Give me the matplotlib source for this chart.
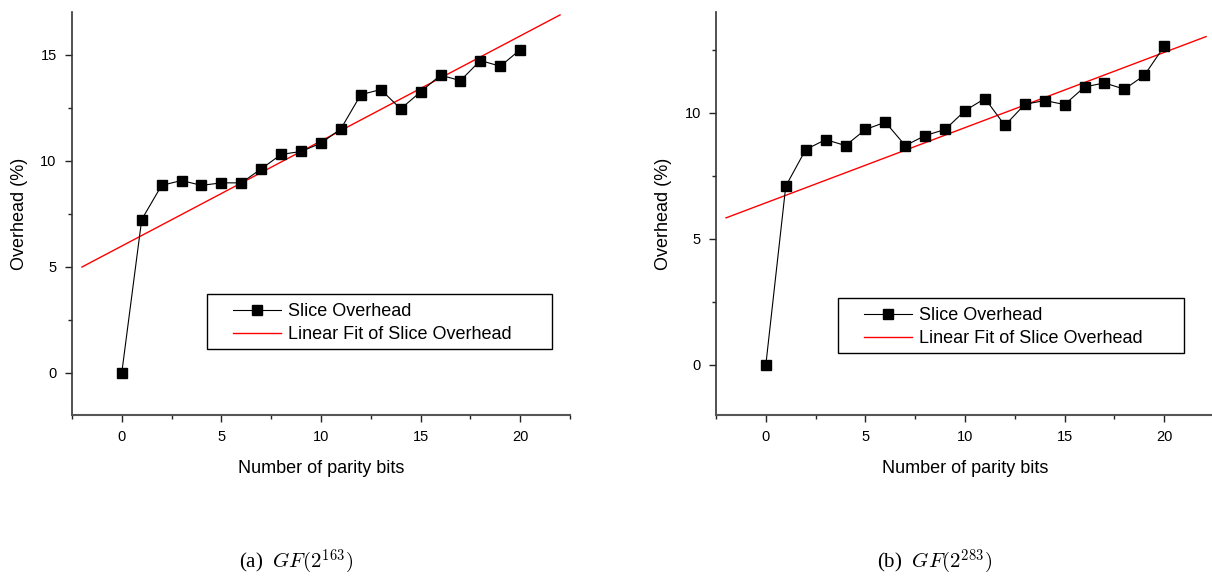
import numpy as np
import matplotlib
matplotlib.use("Agg")
import matplotlib.pyplot as plt
from matplotlib.ticker import MultipleLocator
from matplotlib.patches import Rectangle

plt.rcParams['font.family'] = ['Liberation Sans', 'DejaVu Sans']
plt.rcParams['mathtext.fontset'] = 'cm'

# Parity bits on x axis
bits = list(range(21))

# (a) GF(2^163) slice overhead (%)
overhead_163 = [0.0, 7.22, 8.83, 9.06, 8.83, 8.95, 8.95, 9.61, 10.29, 10.43, 10.82,
                11.50, 13.11, 13.35, 12.44, 13.24, 14.03, 13.77, 14.72, 14.45, 15.23]
fit_x_163 = [-2.0, 22.0]
fit_y_163 = [4.98, 16.87]

# (b) GF(2^283) slice overhead (%)
overhead_283 = [0.0, 7.09, 8.54, 8.94, 8.70, 9.34, 9.63, 8.70, 9.10, 9.34, 10.09,
                10.57, 9.50, 10.34, 10.49, 10.33, 11.03, 11.19, 10.94, 11.49, 12.65]
fit_x_283 = [-2.0, 22.1]
fit_y_283 = [5.83, 13.03]

captions = [r"(a)  $GF(2^{163})$", r"(b)  $GF(2^{283})$"]

fig = plt.figure(figsize=(12.12, 5.79), dpi=100)
ax1 = fig.add_axes([0.0594, 0.2832, 0.4109, 0.6958])
ax2 = fig.add_axes([0.5908, 0.2832, 0.4109, 0.6958])


def draw_panel(ax, y, fx, fy, ylim, box, leg_anchor):
    ax.plot(bits, y, color='black', lw=0.8, marker='s', markersize=7,
            label='Slice Overhead', zorder=3)
    ax.plot(fx, fy, color='red', lw=1.0, label='Linear Fit of Slice Overhead', zorder=2)
    ax.set_xlim(-2.5, 22.5)
    ax.set_ylim(*ylim)
    ax.xaxis.set_major_locator(MultipleLocator(5))
    ax.xaxis.set_minor_locator(MultipleLocator(2.5))
    ax.yaxis.set_major_locator(MultipleLocator(5))
    ax.yaxis.set_minor_locator(MultipleLocator(2.5))
    for s in ['top', 'right']:
        ax.spines[s].set_visible(False)
    ax.spines['left'].set_color('#333333')
    ax.spines['left'].set_linewidth(1.2)
    ax.spines['bottom'].set_color('#555555')
    ax.spines['bottom'].set_linewidth(1.5)
    ax.tick_params(which='major', direction='out', length=5, width=1, color='#222222',
                   labelsize=10.5, pad=6)
    ax.tick_params(which='minor', direction='out', length=3, width=1, color='#222222')
    ax.set_xlabel('Number of parity bits', fontsize=13, labelpad=11)
    ax.set_ylabel('Overhead (%)', fontsize=13, labelpad=9)
    # legend frame drawn separately so the box can be wider than its contents
    ax.add_patch(Rectangle((box[0], box[1]), box[2], box[3], transform=ax.transAxes,
                           facecolor='white', edgecolor='black', lw=1.0, zorder=4))
    leg = ax.legend(loc='upper left', bbox_to_anchor=leg_anchor, frameon=False,
                    fontsize=13, handlelength=2.65, handletextpad=0.4,
                    borderpad=0, labelspacing=0.3, borderaxespad=0)
    leg.set_zorder(5)


draw_panel(ax1, overhead_163, fit_x_163, fit_y_163, (-2, 17),
           (0.271, 0.164, 0.693, 0.136), (0.323, 0.277))
draw_panel(ax2, overhead_283, fit_x_283, fit_y_283, (-2, 14),
           (0.245, 0.154, 0.695, 0.136), (0.297, 0.267))

fig.text(0.244, 0.029, captions[0], fontsize=15, family='Liberation Serif', ha='center', va='center')
fig.text(0.771, 0.029, captions[1], fontsize=15, family='Liberation Serif', ha='center', va='center')

fig.savefig('out.png', dpi=100)
